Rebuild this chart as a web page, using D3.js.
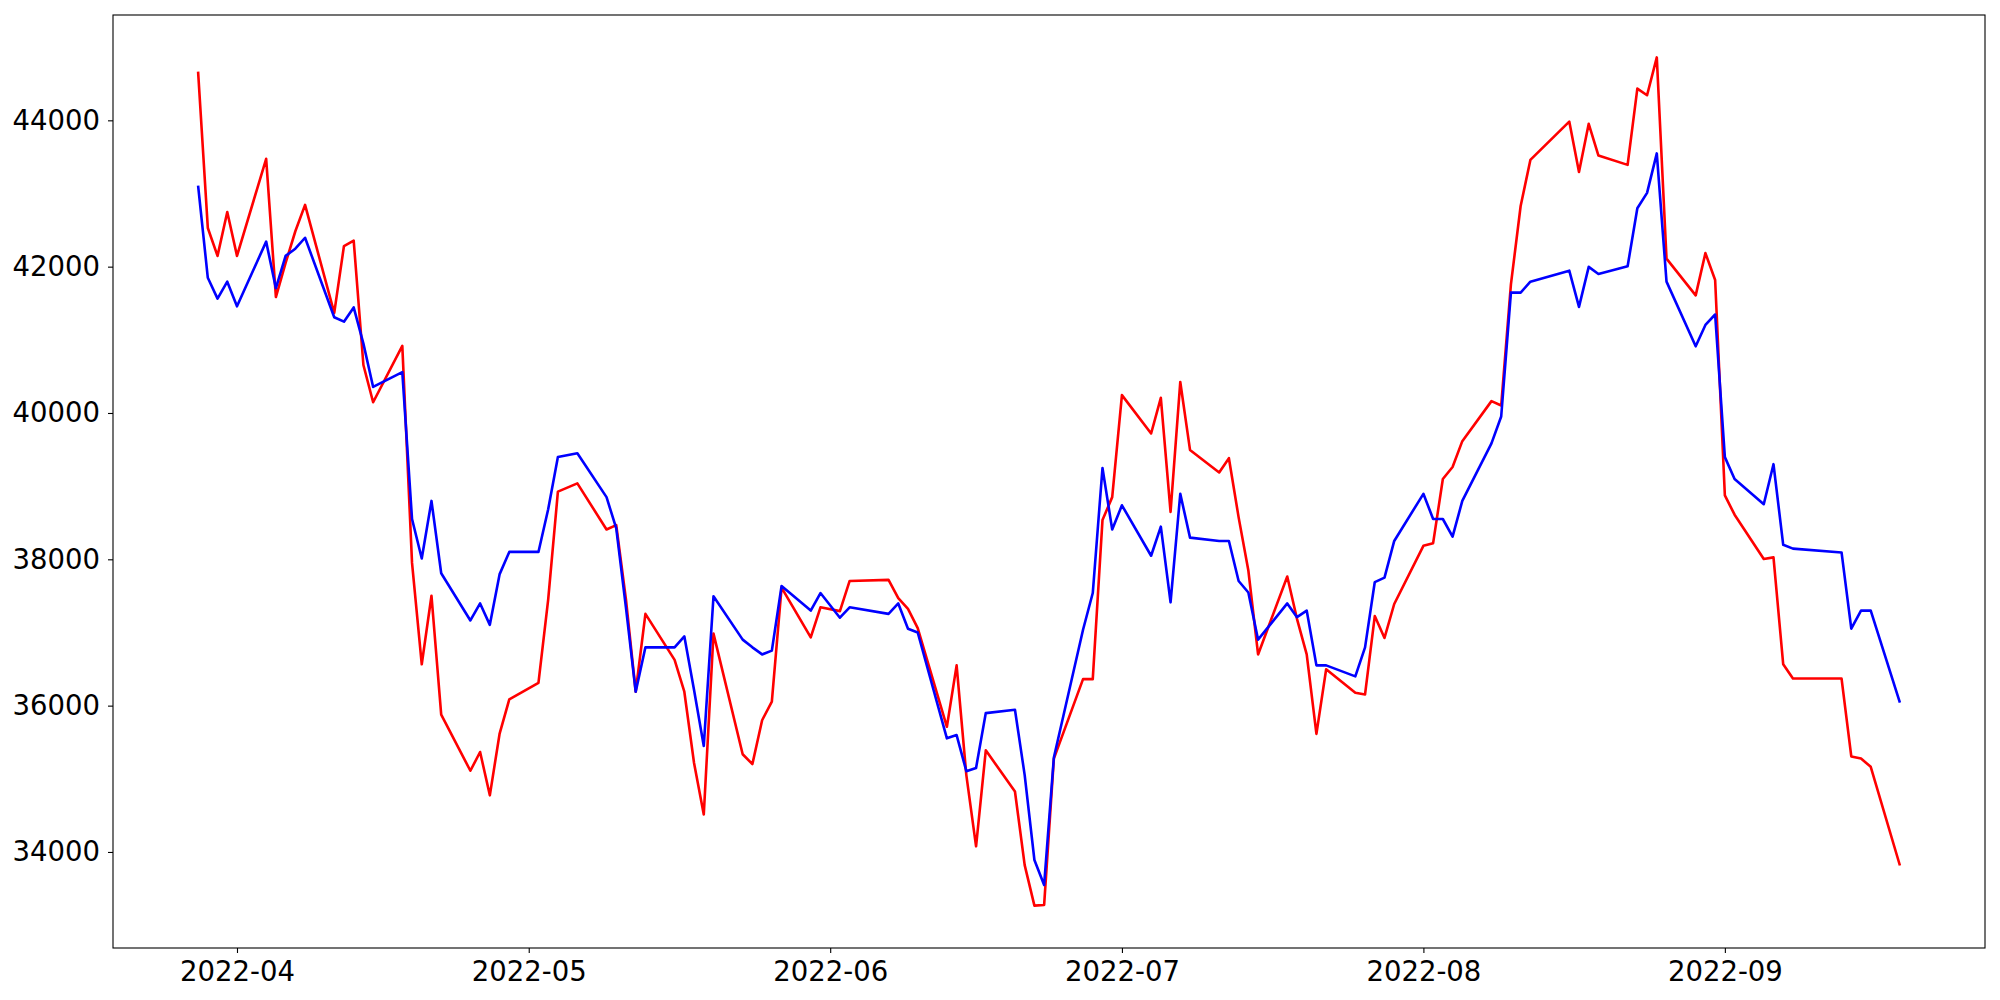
<!DOCTYPE html>
<html>
<head>
<meta charset="utf-8">
<script src="https://cdn.jsdelivr.net/npm/d3@7"></script>
<style>
  html, body { margin: 0; padding: 0; background: #ffffff; }
  svg { display: block; }
  .tick text { font-family: "DejaVu Sans", sans-serif; font-size: 27.5px; fill: #000; }
</style>
</head>
<body>
<script>
const dates = [
  "2022-03-28","2022-03-29","2022-03-30","2022-03-31",
  "2022-04-01","2022-04-04","2022-04-05","2022-04-06","2022-04-07","2022-04-08",
  "2022-04-11","2022-04-12","2022-04-13","2022-04-14","2022-04-15",
  "2022-04-18","2022-04-19","2022-04-20","2022-04-21","2022-04-22",
  "2022-04-25","2022-04-26","2022-04-27","2022-04-28","2022-04-29",
  "2022-05-02","2022-05-03","2022-05-04","2022-05-06",
  "2022-05-09","2022-05-10","2022-05-11","2022-05-12","2022-05-13",
  "2022-05-16","2022-05-17","2022-05-18","2022-05-19","2022-05-20",
  "2022-05-23","2022-05-24","2022-05-25","2022-05-26","2022-05-27",
  "2022-05-30","2022-05-31","2022-06-02","2022-06-03",
  "2022-06-07","2022-06-08","2022-06-09","2022-06-10",
  "2022-06-13","2022-06-14","2022-06-15","2022-06-16","2022-06-17",
  "2022-06-20","2022-06-21","2022-06-22","2022-06-23","2022-06-24",
  "2022-06-27","2022-06-28","2022-06-29","2022-06-30","2022-07-01",
  "2022-07-04","2022-07-05","2022-07-06","2022-07-07","2022-07-08",
  "2022-07-11","2022-07-12","2022-07-13","2022-07-14","2022-07-15",
  "2022-07-18","2022-07-19","2022-07-20","2022-07-21","2022-07-22",
  "2022-07-25","2022-07-26","2022-07-27","2022-07-28","2022-07-29",
  "2022-08-01","2022-08-02","2022-08-03","2022-08-04","2022-08-05",
  "2022-08-08","2022-08-09","2022-08-10","2022-08-11","2022-08-12",
  "2022-08-16","2022-08-17","2022-08-18","2022-08-19",
  "2022-08-22","2022-08-23","2022-08-24","2022-08-25","2022-08-26",
  "2022-08-29","2022-08-30","2022-08-31","2022-09-01","2022-09-02",
  "2022-09-05","2022-09-06","2022-09-07","2022-09-08",
  "2022-09-13","2022-09-14","2022-09-15","2022-09-16","2022-09-19"
];

const redValues = [
  44665,42529,42147,42747,
  42147,43474,41585,42050,42484,42844,
  41368,42282,42357,40656,40147,
  40918,37951,36565,37502,35876,
  35110,35366,34774,35613,36085,
  36310,37449,38925,39038,
  38408,38468,37449,36190,37254,
  36625,36190,35216,34512,36985,
  35336,35201,35800,36055,37614,
  36932,37344,37292,37704,
  37719,37471,37322,37060,
  35711,36550,35051,34077,35389,
  34827,33820,33267,33276,35276,
  36363,36363,38536,38850,40244,
  39720,40207,38648,40424,39495,
  39187,39382,38573,37847,36700,
  37764,37187,36700,35614,36498,
  36175,36153,37224,36925,37389,
  38184,38221,39098,39262,39615,
  40162,40102,41758,42829,43459,
  43983,43294,43953,43518,
  43391,44433,44343,44860,42110,
  41608,42185,41818,38873,38610,
  38004,38026,36565,36370,
  36370,35306,35276,35164,33815
];

const blueValues = [
  43106,41848,41563,41795,
  41458,42342,41705,42147,42245,42395,
  41308,41248,41443,40948,40356,
  40559,38551,38011,38798,37809,
  37164,37397,37104,37794,38101,
  38101,38685,39397,39450,
  38850,38423,37337,36190,36797,
  36797,36947,36213,35448,37494,
  36902,36797,36700,36752,37636,
  37299,37539,37202,37344,
  37254,37397,37052,37000,
  35553,35598,35104,35149,35898,
  35943,35051,33890,33549,35291,
  37037,37539,39247,38408,38738,
  38049,38446,37412,38895,38296,
  38251,38251,37704,37546,36902,
  37397,37209,37299,36550,36550,
  36400,36797,37689,37749,38251,
  38895,38551,38551,38311,38798,
  39585,39952,41645,41645,41795,
  41945,41450,41997,41900,
  42005,42799,43009,43548,41795,
  40911,41203,41346,39397,39098,
  38753,39300,38198,38146,
  38094,37052,37299,37299,36040
];

const yTickValues = [34000, 36000, 38000, 40000, 42000, 44000];
const xTickLabels = ["2022-04","2022-05","2022-06","2022-07","2022-08","2022-09"];

const W = 2000, H = 1000;
const plot = { left: 113, right: 1985, top: 15, bottom: 948 };

const parse = d3.utcParse("%Y-%m-%d");
const parseMonth = d3.utcParse("%Y-%m");
const dt = dates.map(parse);

const redData = dt.map((d, i) => ({ date: d, value: redValues[i] }));
const blueData = dt.map((d, i) => ({ date: d, value: blueValues[i] }));

// matplotlib-like 5% margins
const [x0, x1] = d3.extent(dt);
const xPad = (x1 - x0) * 0.05;
const allVals = redValues.concat(blueValues);
const [v0, v1] = d3.extent(allVals);
const yPad = (v1 - v0) * 0.05;

const x = d3.scaleUtc()
  .domain([new Date(+x0 - xPad), new Date(+x1 + xPad)])
  .range([plot.left, plot.right]);
const y = d3.scaleLinear()
  .domain([v0 - yPad, v1 + yPad])
  .range([plot.bottom, plot.top]);

const svg = d3.select("body").append("svg")
  .attr("width", W).attr("height", H)
  .attr("viewBox", `0 0 ${W} ${H}`);

svg.append("rect").attr("width", W).attr("height", H).attr("fill", "#fff");

svg.append("clipPath").attr("id", "clip")
  .append("rect")
  .attr("x", plot.left).attr("y", plot.top)
  .attr("width", plot.right - plot.left).attr("height", plot.bottom - plot.top);

const line = d3.line().x(d => x(d.date)).y(d => y(d.value));

const g = svg.append("g").attr("clip-path", "url(#clip)");
g.append("path").datum(redData)
  .attr("fill", "none").attr("stroke", "#ff0000")
  .attr("stroke-width", 2.6).attr("stroke-linejoin", "round")
  .attr("d", line);
g.append("path").datum(blueData)
  .attr("fill", "none").attr("stroke", "#0000ff")
  .attr("stroke-width", 2.6).attr("stroke-linejoin", "round")
  .attr("d", line);

// axes
const xAxis = d3.axisBottom(x)
  .tickValues(xTickLabels.map(parseMonth))
  .tickFormat(d3.utcFormat("%Y-%m"))
  .tickSize(5).tickPadding(8);
const xg = svg.append("g").attr("transform", `translate(0,${plot.bottom})`).call(xAxis);
xg.select(".domain").remove();
xg.selectAll(".tick line").attr("stroke", "#000").attr("stroke-width", 1.1);

const yAxis = d3.axisLeft(y)
  .tickValues(yTickValues)
  .tickFormat(d3.format("d"))
  .tickSize(5).tickPadding(8);
const yg = svg.append("g").attr("transform", `translate(${plot.left},0)`).call(yAxis);
yg.select(".domain").remove();
yg.selectAll(".tick line").attr("stroke", "#000").attr("stroke-width", 1.1);

// spines
svg.append("rect")
  .attr("x", plot.left).attr("y", plot.top)
  .attr("width", plot.right - plot.left).attr("height", plot.bottom - plot.top)
  .attr("fill", "none").attr("stroke", "#000").attr("stroke-width", 1.1);
</script>
</body>
</html>
